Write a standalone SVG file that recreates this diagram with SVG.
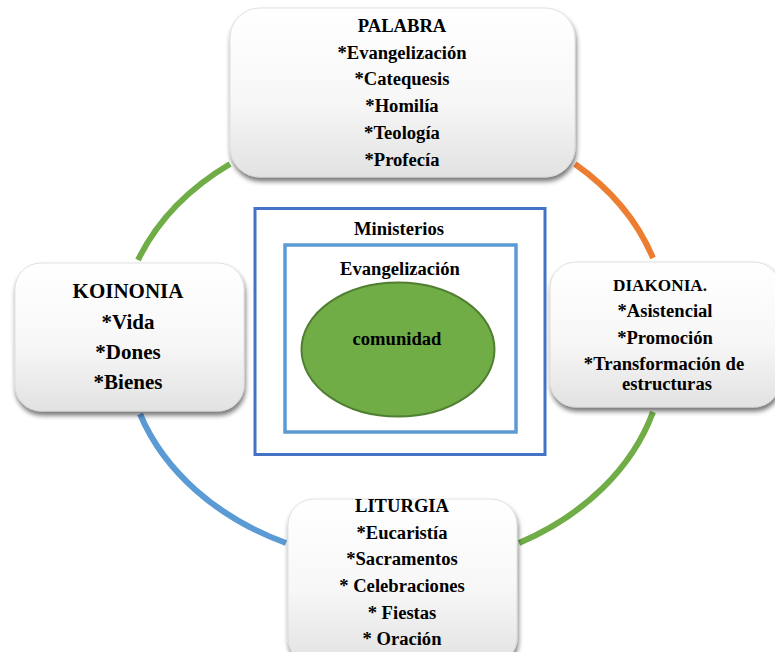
<svg xmlns="http://www.w3.org/2000/svg" width="775" height="652" viewBox="0 0 775 652">
<defs>
<linearGradient id="boxg" x1="0" y1="0" x2="0" y2="1">
<stop offset="0" stop-color="#ffffff"/>
<stop offset="0.55" stop-color="#f7f7f7"/>
<stop offset="1" stop-color="#e2e2e2"/>
</linearGradient>
<filter id="sh" x="-10%" y="-10%" width="125%" height="130%">
<feGaussianBlur in="SourceAlpha" stdDeviation="2.5"/>
<feOffset dx="1" dy="4" result="o"/>
<feComponentTransfer><feFuncA type="linear" slope="0.55"/></feComponentTransfer>
<feMerge><feMergeNode/><feMergeNode in="SourceGraphic"/></feMerge>
</filter>
<style>
.box{fill:url(#boxg);stroke:#d9d9d9;stroke-width:0.8;filter:url(#sh)}
.t{font-family:'Times New Roman','Liberation Serif','DejaVu Serif',serif;font-weight:700;fill:#000;text-anchor:middle;font-size:18.6px}
.arc{fill:none;stroke-width:6}
</style>
</defs>
<g id="connectors">
<path class="arc" stroke="#70AD47" d="M138,260 A276 218 0 0 1 230,164"/>
<path class="arc" stroke="#ED7D31" d="M575,164 A276 218 0 0 1 653,258"/>
<path class="arc" stroke="#70AD47" d="M653,412 A276 218 0 0 1 519,543"/>
<path class="arc" stroke="#5B9BD5" d="M286,543 A276 218 0 0 1 140,414"/>
</g>
<g id="center">
<rect x="255" y="208.5" width="290" height="246" fill="#fff" stroke="#4472C4" stroke-width="3"/>
<text class="t" x="399" y="235">Ministerios</text>
<rect x="285" y="245" width="231" height="187" fill="#fff" stroke="#5B9BD5" stroke-width="3.5"/>
<text class="t" x="400" y="275">Evangelización</text>
<ellipse cx="398" cy="349.5" rx="96.5" ry="67" fill="#70AD47" stroke="#507E32" stroke-width="2"/>
<text class="t" x="397" y="345">comunidad</text>
</g>
<g id="palabra">
<rect class="box" x="230" y="8" width="345" height="169" rx="30"/>
<text class="t"><tspan x="402" y="32">PALABRA</tspan><tspan x="402" y="58.5">*Evangelización</tspan><tspan x="402" y="85">*Catequesis</tspan><tspan x="402" y="112">*Homilía</tspan><tspan x="402" y="138.5">*Teología</tspan><tspan x="402" y="165.5">*Profecía</tspan></text>
</g>
<g id="koinonia">
<rect class="box" x="15" y="263" width="229" height="148" rx="26"/>
<text class="t" style="font-size:21px"><tspan x="128" y="298">KOINONIA</tspan><tspan x="128" y="328.5">*Vida</tspan><tspan x="128" y="359">*Dones</tspan><tspan x="128" y="389">*Bienes</tspan></text>
</g>
<g id="diakonia">
<rect class="box" x="550" y="262" width="230" height="145" rx="26"/>
<text class="t"><tspan x="660" y="291" style="font-size:17.2px">DIAKONIA.</tspan><tspan x="665" y="317">*Asistencial</tspan><tspan x="665" y="343.5">*Promoción</tspan><tspan x="664" y="370">*Transformación de</tspan><tspan x="667" y="390">estructuras</tspan></text>
</g>
<g id="liturgia">
<rect class="box" x="288" y="499" width="229" height="165" rx="26"/>
<text class="t"><tspan x="402" y="512">LITURGIA</tspan><tspan x="402" y="538.5">*Eucaristía</tspan><tspan x="402" y="565">*Sacramentos</tspan><tspan x="402" y="592">* Celebraciones</tspan><tspan x="402" y="618.5">* Fiestas</tspan><tspan x="402" y="645">* Oración</tspan></text>
</g>
</svg>
